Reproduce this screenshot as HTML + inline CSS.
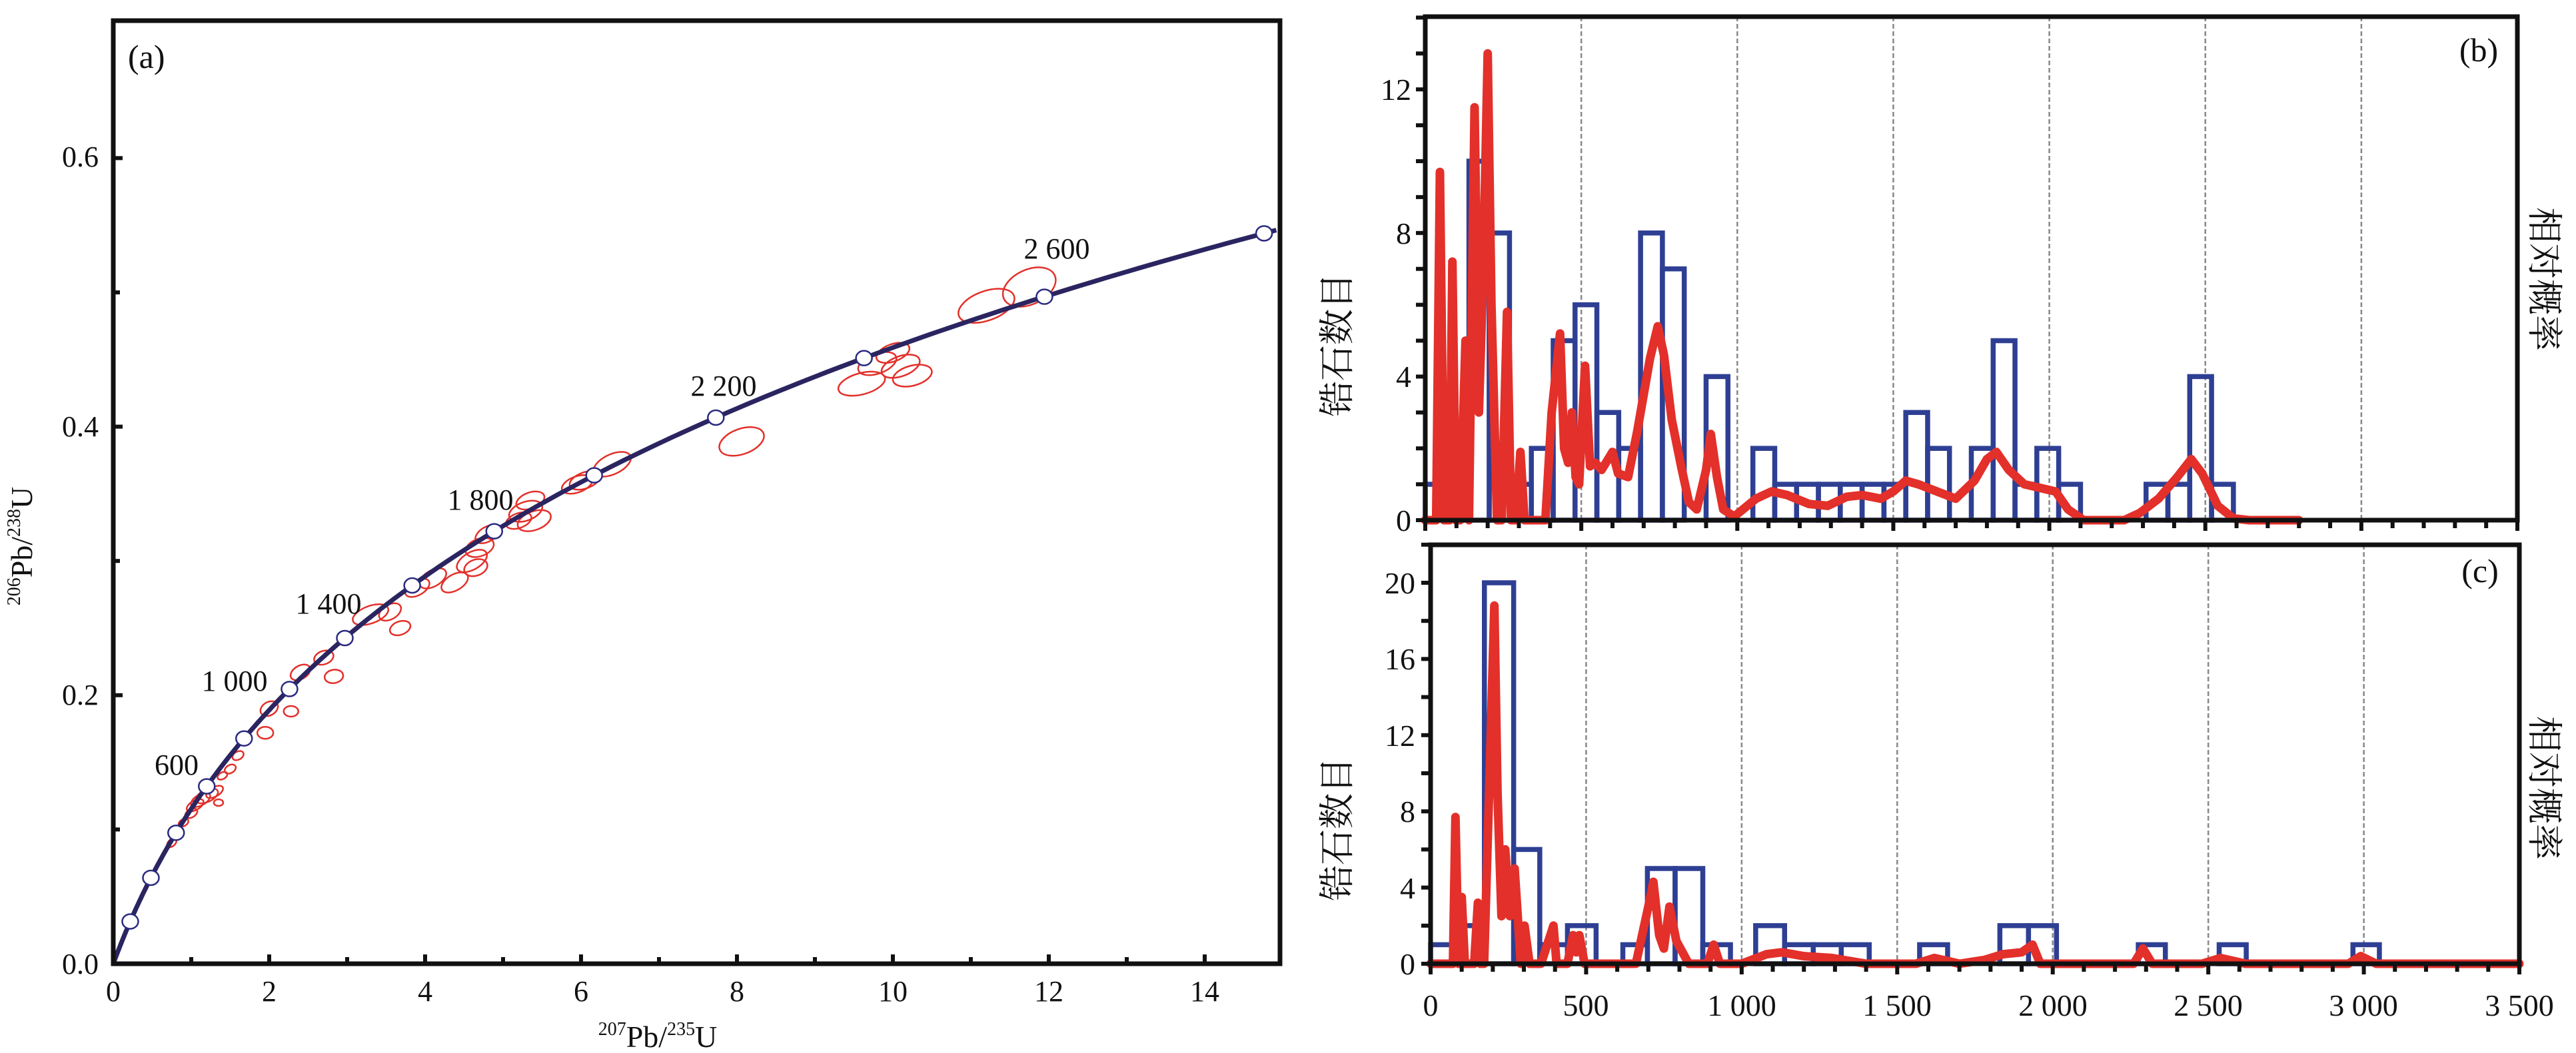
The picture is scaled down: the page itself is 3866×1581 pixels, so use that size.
<!DOCTYPE html>
<html><head><meta charset="utf-8"><style>
html,body{margin:0;padding:0;background:#fff;}
svg{display:block;}
text{font-family:"Liberation Serif","Noto Serif CJK SC",serif;fill:#111;}
.cn{font-family:"Liberation Serif","Noto Serif CJK SC","Noto Sans CJK SC",serif;}
</style></head><body>
<svg id="s" width="3866" height="1581" viewBox="0 0 3866 1581" xmlns="http://www.w3.org/2000/svg">
<rect width="3866" height="1581" fill="#fff"/>
<g id="a"></g><g id="b"></g><g id="c"></g>
<text x="192" y="102" font-size="50">(a)</text>
<g font-size="44" text-anchor="end">
<text x="148" y="1462">0.0</text>
<text x="148" y="1058">0.2</text>
<text x="148" y="655">0.4</text>
<text x="148" y="250">0.6</text>
</g>
<g font-size="44" text-anchor="middle">
<text x="170" y="1503">0</text>
<text x="404" y="1503">2</text>
<text x="638" y="1503">4</text>
<text x="872" y="1503">6</text>
<text x="1106" y="1503">8</text>
<text x="1340" y="1503">10</text>
<text x="1574" y="1503">12</text>
<text x="1808" y="1503">14</text>
</g>
<g font-size="44" text-anchor="middle">
<text x="265" y="1163">600</text>
<text x="352" y="1037">1 000</text>
<text x="493" y="921">1 400</text>
<text x="721" y="765">1 800</text>
<text x="1086" y="594">2 200</text>
<text x="1586" y="388">2 600</text>
</g>
<text x="987" y="1572" font-size="46" text-anchor="middle"><tspan font-size="28" dy="-18">207</tspan><tspan dy="18">Pb/</tspan><tspan font-size="28" dy="-18">235</tspan><tspan dy="18">U</tspan></text>
<text transform="translate(48,820) rotate(-90)" font-size="46" text-anchor="middle"><tspan font-size="28" dy="-18">206</tspan><tspan dy="18">Pb/</tspan><tspan font-size="28" dy="-18">238</tspan><tspan dy="18">U</tspan></text>
<text x="3720" y="92" font-size="50" text-anchor="middle">(b)</text>
<text x="3722" y="874" font-size="50" text-anchor="middle">(c)</text>
<g font-size="46" text-anchor="end">
<text x="2118" y="797">0</text>
<text x="2118" y="581">4</text>
<text x="2118" y="366">8</text>
<text x="2118" y="150">12</text>
<text x="2124" y="1463">0</text>
<text x="2124" y="1349">4</text>
<text x="2124" y="1234">8</text>
<text x="2124" y="1120">12</text>
<text x="2124" y="1005">16</text>
<text x="2124" y="891">20</text>
</g>
<g font-size="46" text-anchor="middle">
<text x="2147" y="1525">0</text>
<text x="2380" y="1525">500</text>
<text x="2614" y="1525">1 000</text>
<text x="2847" y="1525">1 500</text>
<text x="3081" y="1525">2 000</text>
<text x="3314" y="1525">2 500</text>
<text x="3547" y="1525">3 000</text>
<text x="3781" y="1525">3 500</text>
</g>
<text class="cn" transform="translate(2025,518) rotate(-90)" font-size="54" text-anchor="middle">锆石数目</text>
<text class="cn" transform="translate(2025,1245) rotate(-90)" font-size="54" text-anchor="middle">锆石数目</text>
<text class="cn" transform="translate(3800,419) rotate(90)" font-size="54" text-anchor="middle">相对概率</text>
<text class="cn" transform="translate(3800,1183) rotate(90)" font-size="54" text-anchor="middle">相对概率</text>
</svg>
<script>
var NS="http://www.w3.org/2000/svg";
function el(p,t,a){var e=document.createElementNS(NS,t);for(var k in a)e.setAttribute(k,a[k]);p.appendChild(e);return e;}
var A=document.getElementById('a');
var X0=170,Y0=1447,KX=117,KY=2016,XR=1921,YT=31;
function ax(x){return X0+x*KX;} function ay(y){return Y0-y*KY;}
var E=[[1.05,0.118,14,7,-30],[1.12,0.122,16,8,-30],[1.2,0.125,18,9,-25],[1.3,0.128,14,7,-30],[1.0,0.112,10,6,-30],[0.9,0.105,8,5,-30],[0.75,0.09,8,5,-40],[1.5,0.145,9,6,-30],[1.4,0.14,8,5,-30],[1.6,0.155,9,6,-30],[1.35,0.12,7,5,0],
[2.0,0.19,14,10,-30],[1.95,0.172,12,9,0],[2.28,0.188,11,8,0],[2.4,0.217,16,10,-30],[2.7,0.228,15,10,-20],[2.83,0.214,14,10,-10],
[3.3,0.26,28,13,-20],[3.55,0.262,18,11,-30],[3.68,0.25,16,10,-20],[3.9,0.28,20,11,-30],[4.1,0.287,22,12,-30],[4.38,0.284,22,12,-30],
[4.6,0.3,25,13,-30],[4.7,0.31,22,13,-20],[4.8,0.32,20,11,-30],[4.65,0.295,18,12,-20],
[5.2,0.33,20,11,-20],[5.29,0.337,26,14,-20],[5.4,0.33,26,14,-20],[5.35,0.345,22,12,-20],
[5.95,0.357,24,12,-20],[6.05,0.36,24,12,-20],[6.4,0.372,30,15,-25],
[8.06,0.389,35,19,-20],
[9.6,0.432,36,16,-15],[9.8,0.447,30,15,-20],[10.1,0.445,30,15,-20],[10.25,0.438,30,15,-15],[10.0,0.455,26,13,-20],
[11.2,0.49,44,22,-20],[11.75,0.504,42,26,-25]];
E.forEach(function(e){el(A,'ellipse',{cx:ax(e[0]),cy:ay(e[1]),rx:e[2],ry:e[3],transform:'rotate('+e[4]+' '+ax(e[0])+' '+ay(e[1])+')',fill:'none',stroke:'#e3302a','stroke-width':2.5});});
var l8=1.55125e-10,l5=9.8485e-10,d="";
for(var t=0;t<=2900e6;t+=10e6){var x=Math.exp(l5*t)-1,y=Math.exp(l8*t)-1;var px=ax(x);if(px>XR)break;d+=(d?"L":"M")+px.toFixed(1)+","+ay(y).toFixed(1);}
el(A,'path',{d:d,fill:'none',stroke:'#2a2560','stroke-width':7});
for(var t=200e6;t<=2800e6;t+=200e6){var x=Math.exp(l5*t)-1,y=Math.exp(l8*t)-1;el(A,'ellipse',{cx:ax(x),cy:ay(y),rx:12,ry:11,fill:'#fff',stroke:'#2a2a80','stroke-width':2.5});}
el(A,'rect',{x:X0,y:YT,width:XR-X0,height:Y0-YT,fill:'none',stroke:'#111','stroke-width':7});
for(var i=1;i<=14;i++){var h=(i%2==0)?14:10;el(A,'line',{x1:ax(i),x2:ax(i),y1:Y0,y2:Y0-h,stroke:'#111','stroke-width':6});}
for(var i=1;i<=6;i++){var h=(i%2==0)?14:10;el(A,'line',{x1:X0,x2:X0+h,y1:ay(i/10),y2:ay(i/10),stroke:'#111','stroke-width':6});}
function panel(G,L,R,B,T,K,ymax,minor,bars,curve){
 var g=document.getElementById(G);var kx=(R-L)/3500;
 function px(m){return L+m*kx;} function py(v){return B-v*K;}
 for(var m=500;m<=3000;m+=500)el(g,'line',{x1:px(m),x2:px(m),y1:T,y2:B,stroke:'#888','stroke-width':2.5,'stroke-dasharray':'7,4'});
 bars.forEach(function(b){if(b[2]>0)el(g,'rect',{x:px(b[0]),y:py(b[2]),width:px(b[1])-px(b[0]),height:b[2]*K,fill:'none',stroke:'#2e3f93','stroke-width':7.5});});
 var d="";curve.forEach(function(p,i){d+=(i?"L":"M")+px(p[0]).toFixed(1)+","+py(p[1]).toFixed(1);});
 el(g,'path',{d:d,fill:'none',stroke:'#e3302a','stroke-width':13,'stroke-linejoin':'round','stroke-linecap':'round'});
 el(g,'rect',{x:L,y:T,width:R-L,height:B-T,fill:'none',stroke:'#111','stroke-width':7});
 for(var m=0;m<=3500;m+=100){var h=(m%500==0)?16:12;el(g,'line',{x1:px(m),x2:px(m),y1:B,y2:B+h,stroke:'#111','stroke-width':6});}
 for(var v=0;v<=ymax;v+=minor){el(g,'line',{x1:L,x2:L-14,y1:py(v),y2:py(v),stroke:'#111','stroke-width':6});}
}
var bb=[[0,140,1],[140,205,10],[205,270,8],[270,340,1],[340,410,2],[410,480,5],[480,550,6],[550,620,3],[620,690,2],[690,760,8],[760,830,7],[900,970,4],[1050,1120,2],[1120,1190,1],[1190,1260,1],[1260,1330,1],[1330,1400,1],[1400,1470,1],[1470,1540,1],[1540,1610,3],[1610,1680,2],[1750,1820,2],[1820,1890,5],[1890,1960,1],[1960,2030,2],[2030,2100,1],[2310,2380,1],[2380,2450,1],[2450,2520,4],[2520,2590,1]];
var cb=[[0,87,1],[87,173,2],[173,267,20],[267,351,6],[351,440,1],[440,532,2],[618,697,1],[697,786,5],[786,875,5],[875,964,1],[1045,1138,2],[1138,1230,1],[1230,1320,1],[1320,1410,1],[1572,1662,1],[1830,1922,2],[1922,2012,2],[2275,2362,1],[2535,2622,1],[2965,3050,1]];
var rb=[[0,0],[35,0],[47,9.7],[60,0],[78,0],[87,7.2],[98,0],[112,0],[129,5],[140,0],[158,11.5],[172,3],[186,7],[200,13],[212,6],[230,0],[245,0],[262,5.8],[275,0],[290,0],[305,1.9],[318,0],[385,0],[405,3],[432,5.2],[445,2],[458,1.6],[470,3],[482,1.2],[493,1],[512,4.3],[528,1.5],[545,1.6],[565,1.4],[600,1.9],[618,1.3],[650,1.2],[680,2.5],[720,4.5],[745,5.4],[765,4.6],[790,2.8],[820,1.5],[845,0.5],[870,0.3],[900,1.4],[915,2.4],[935,1.2],[955,0.3],[990,0.1],[1060,0.6],[1110,0.8],[1160,0.7],[1230,0.45],[1290,0.4],[1350,0.65],[1400,0.7],[1460,0.6],[1500,0.8],[1540,1.1],[1580,1.0],[1640,0.8],[1700,0.6],[1760,1.1],[1800,1.7],[1830,1.9],[1870,1.4],[1920,1.0],[1970,0.9],[2020,0.8],[2060,0.3],[2110,0],[2240,0],[2290,0.2],[2350,0.6],[2410,1.2],[2455,1.7],[2490,1.3],[2540,0.4],[2590,0.05],[2640,0],[2800,0]];
var rc=[[0,0],[72,0],[80,7.7],[90,0],[100,3.5],[110,0],[140,0],[152,3.2],[160,0],[172,0],[188,9],[205,18.8],[215,9],[228,2.5],[240,6],[255,2.5],[270,5],[290,0],[302,2],[318,0],[348,0],[355,0],[395,2],[405,0],[440,0],[458,1.5],[468,0.6],[478,1.5],[495,0],[660,0],[700,3],[716,4.3],[735,1.5],[750,0.8],[768,3],[790,1.2],[830,0],[890,0],[910,1],[930,0],[1000,0],[1080,0.5],[1130,0.6],[1200,0.4],[1290,0.3],[1400,0],[1560,0],[1620,0.3],[1700,0],[1780,0.2],[1840,0.5],[1900,0.6],[1935,1],[1960,0],[2260,0],[2290,0.8],[2320,0],[2480,0],[2540,0.3],[2620,0],[2950,0],[2990,0.4],[3040,0],[3500,0]];
panel('b',2139,3778,781,25,53.9,14,1,bb,rb);
panel('c',2147,3781,1447,818,28.6,22,2,cb,rc);
</script>
</body></html>
